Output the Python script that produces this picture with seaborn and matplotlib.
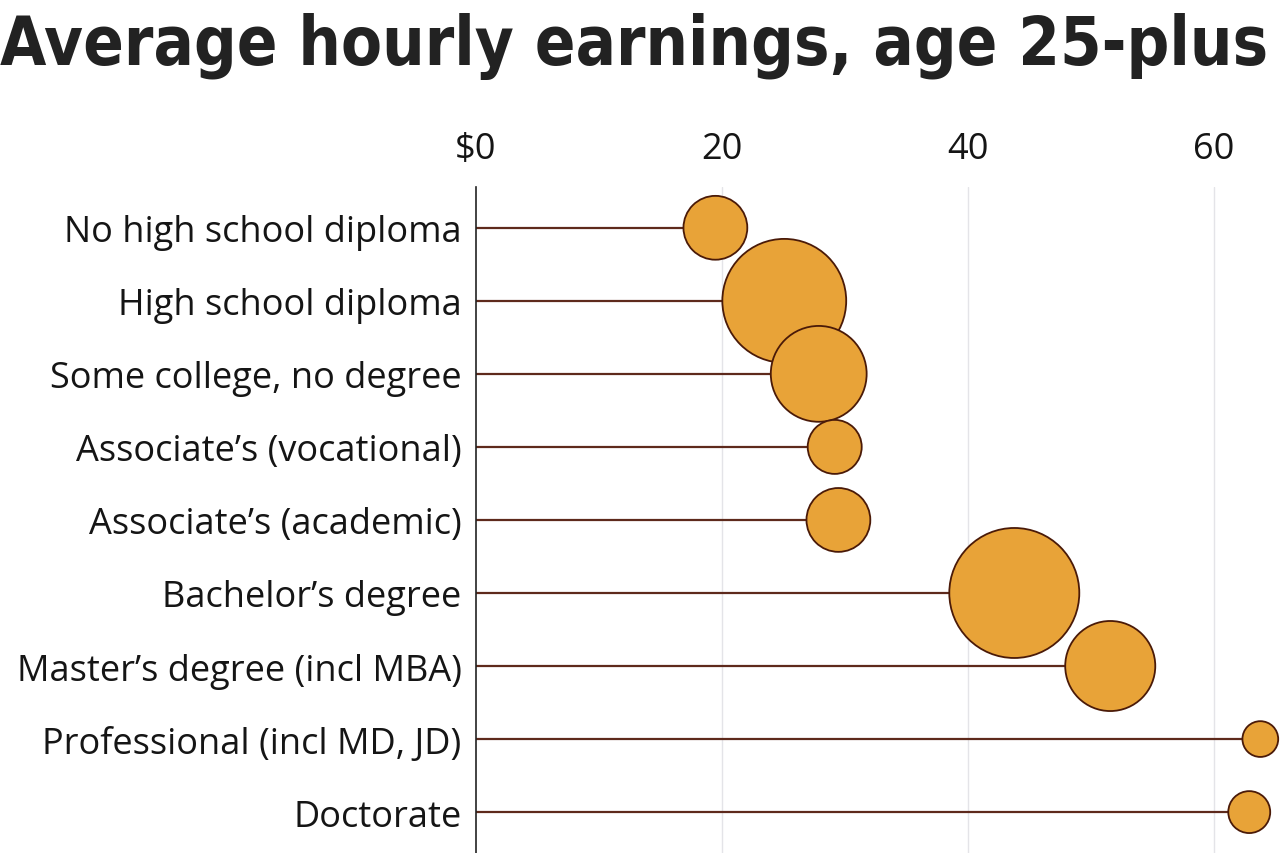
import pandas as pd
import matplotlib.pyplot as plt
import seaborn as sns

sns.set_theme(style="white")
plt.rcParams['font.family'] = ['Open Sans', 'DejaVu Sans']

# Data (hourly wage in $, bubble size ~ number of workers, millions)
levels = [
    "No high school diploma",
    "High school diploma",
    "Some college, no degree",
    "Associate\u2019s (vocational)",
    "Associate\u2019s (academic)",
    "Bachelor\u2019s degree",
    "Master\u2019s degree (incl MBA)",
    "Professional (incl MD, JD)",
    "Doctorate",
]
wages = [19.5, 25.1, 27.9, 29.2, 29.5, 43.8, 51.6, 63.8, 62.9]
workers = [10.2, 38.4, 23.0, 7.3, 10.2, 42.3, 20.3, 3.2, 4.4]
xticks = [0, 20, 40, 60]
xticklabels = ["$0", "20", "40", "60"]

df = pd.DataFrame({"level": levels, "wage": wages, "workers": workers})

fill = "#E8A338"
edge = "#4a1a08"
stem = "#5e2a1c"

fig = plt.figure(figsize=(12.8, 8.54), dpi=100)
ax = fig.add_axes([0.3715, 0.0, 0.6285, 0.78])

# bubble area proportional to workers: r=65px (~93.6pt diameter) for 42.3
smax = (1.44 * 65) ** 2 * max(workers) / 42.3
sns.scatterplot(data=df, x="wage", y="level", size="workers",
                sizes=(0, smax), size_norm=(0, max(workers)),
                color=fill, edgecolor=edge, linewidth=1.3, alpha=1,
                legend=False, ax=ax, zorder=3)
ax.hlines(df["level"], 0, df["wage"], color=stem, linewidth=1.6, zorder=2)

ax.set_xlim(0, 65.4)
ax.set_ylim(len(levels) - 1 + 0.56, -0.56)
ax.set_xticks(xticks)
ax.set_xticklabels(xticklabels)
ax.xaxis.tick_top()
ax.tick_params(axis="x", length=0, pad=14, labelsize=26, colors="#151515")
ax.tick_params(axis="y", length=0, pad=10, labelsize=26, colors="#151515")
ax.set_xlabel("")
ax.set_ylabel("")
for t in xticks[1:]:
    ax.axvline(t, color="#e4e4e8", linewidth=1, zorder=0)
for s in ["top", "right", "bottom"]:
    ax.spines[s].set_visible(False)
ax.spines["left"].set_color("#222222")
ax.spines["left"].set_linewidth(1.2)

fig.text(0.0, 0.985, "Average hourly earnings, age 25-plus", ha="left", va="top",
         fontsize=48, fontweight="bold", fontstretch="condensed", color="#222222",
         family=["DejaVu Sans"])

fig.savefig("out.png", dpi=100)
